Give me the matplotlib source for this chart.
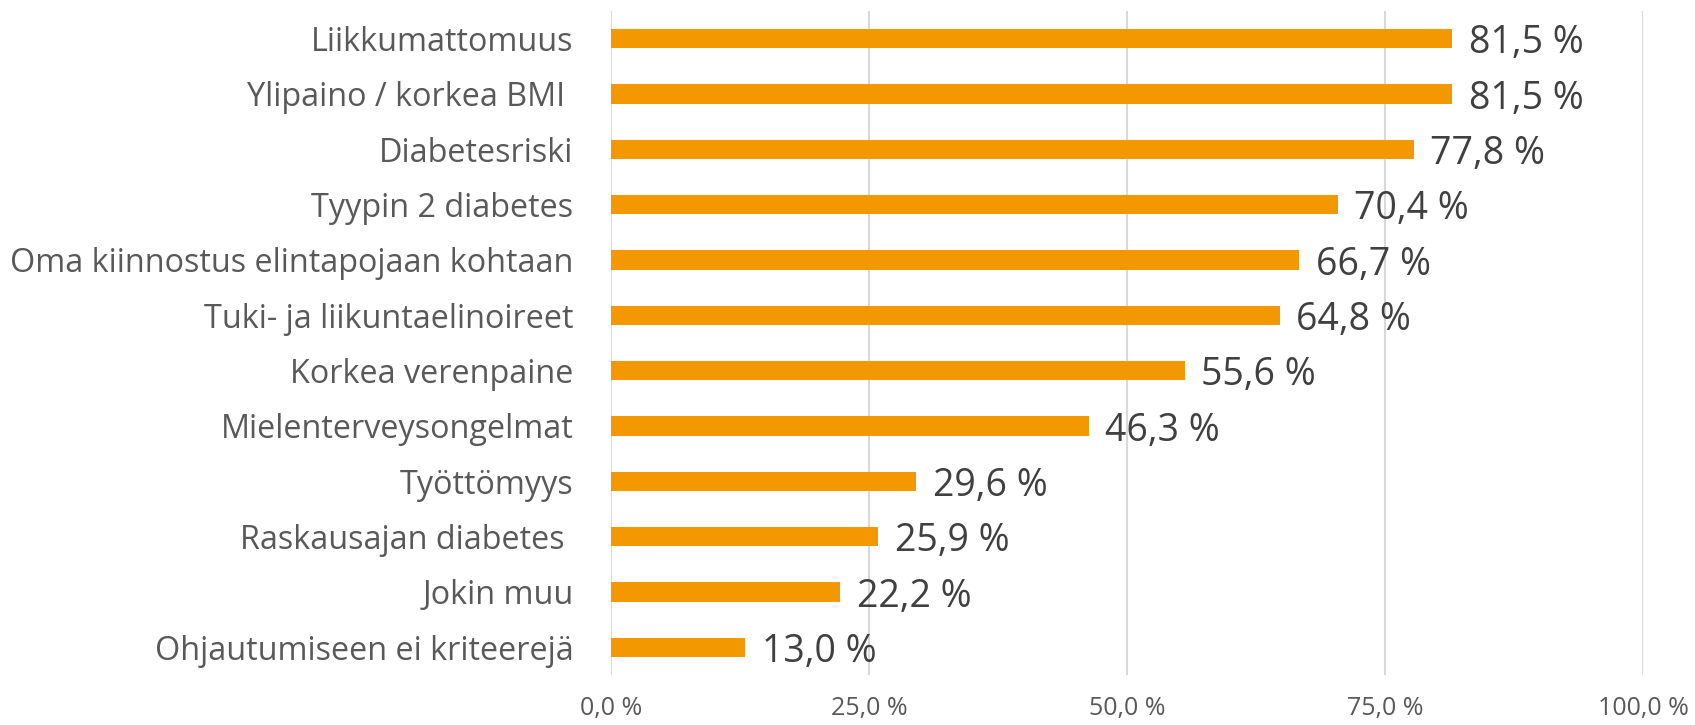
import matplotlib
matplotlib.use("Agg")
import matplotlib.pyplot as plt

categories = [
    "Liikkumattomuus",
    "Ylipaino / korkea BMI ",
    "Diabetesriski",
    "Tyypin 2 diabetes",
    "Oma kiinnostus elintapojaan kohtaan",
    "Tuki- ja liikuntaelinoireet",
    "Korkea verenpaine",
    "Mielenterveysongelmat",
    "Työttömyys",
    "Raskausajan diabetes ",
    "Jokin muu",
    "Ohjautumiseen ei kriteerejä",
]
values = [81.5, 81.5, 77.8, 70.4, 66.7, 64.8, 55.6, 46.3, 29.6, 25.9, 22.2, 13.0]
xticks = [0, 25, 50, 75, 100]
xtick_labels = ["0,0 %", "25,0 %", "50,0 %", "75,0 %", "100,0 %"]

plt.rcParams['font.family'] = ['Open Sans', 'DejaVu Sans']

fig = plt.figure(figsize=(16.95, 7.25), dpi=100)
ax = fig.add_axes([611/1695, 1 - 675/725, (1643 - 611)/1695, (675 - 11)/725])

n = len(categories)
ypos = list(range(n))[::-1]
ax.barh(ypos, values, height=0.35, color='#F39800', zorder=3)

for y, v in zip(ypos, values):
    ax.text(v + 1.6, y, f"{v:.1f} %".replace('.', ','), va='center_baseline', ha='left',
            fontsize=27, color='#404040', zorder=4)

ax.set_xlim(0, 100)
ax.set_ylim(-0.5, n - 0.5)
ax.set_yticks(ypos)
ax.set_yticklabels(categories, fontsize=23.3, color='#595959')
ax.set_xticks(xticks)
ax.set_xticklabels(xtick_labels, fontsize=18, color='#595959',
                   family=['Liberation Sans Narrow', 'Open Sans'])
ax.tick_params(axis='y', length=0, pad=27)
ax.tick_params(axis='x', length=0, pad=15)
ax.grid(axis='x', color='#D9D9D9', linewidth=1.5, zorder=0)
for s in ax.spines.values():
    s.set_visible(False)

fig.savefig("out.png", dpi=100)
